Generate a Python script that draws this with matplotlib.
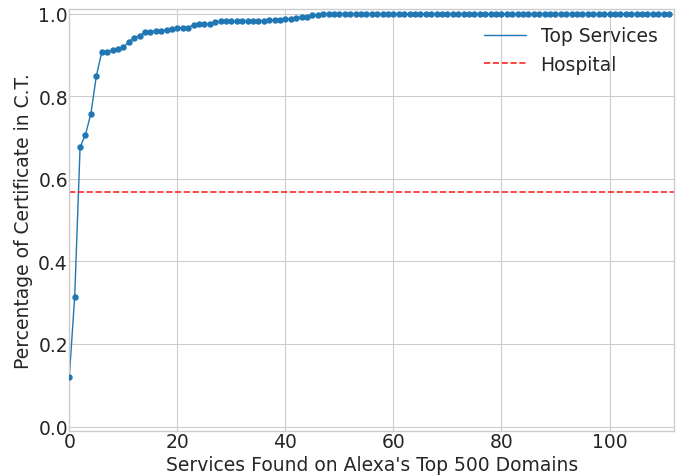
import matplotlib
matplotlib.use("Agg")
import matplotlib.pyplot as plt
import numpy as np

# Fracción acumulada de certificados en C.T. por servicio
top_services = [
    0.120, 0.314, 0.677, 0.707, 0.758, 0.848, 0.907, 0.907, 0.912, 0.914,
    0.918, 0.931, 0.942, 0.947, 0.955, 0.956, 0.958, 0.959, 0.961, 0.963,
    0.965, 0.966, 0.966, 0.973, 0.974, 0.975, 0.975, 0.979, 0.981, 0.981,
    0.981, 0.981, 0.982, 0.982, 0.983, 0.983, 0.983, 0.984, 0.984, 0.985,
    0.986, 0.986, 0.989, 0.992, 0.993, 0.996, 0.997,
] + [1.0] * 65
hospital = 0.567

x = np.arange(len(top_services))

plt.style.use("seaborn-v0_8-whitegrid")
plt.rcParams["font.family"] = ["DejaVu Sans"]

fig = plt.figure(figsize=(6.86, 4.77), dpi=100)
ax = fig.add_axes([0.101, 0.095, 0.882, 0.883])

ax.plot(x, top_services, color="#1f77b4", lw=1.0, label="Top Services")
ax.scatter(x, top_services, color="#1f77b4", s=13, zorder=3)
ax.axhline(hospital, color="red", ls="--", lw=1.2, alpha=0.85, label="Hospital")

ax.set_xlim(0, len(top_services))
ax.set_ylim(-0.01, 1.01)
ax.set_xticks([0, 20, 40, 60, 80, 100])
ax.set_yticks([0.0, 0.2, 0.4, 0.6, 0.8, 1.0])
ax.set_yticklabels(["0.0", "0.2", "0.4", "0.6", "0.8", "1.0"])
ax.tick_params(labelsize=13.5, pad=1, labelcolor="0.15")

ax.set_xlabel("Services Found on Alexa's Top 500 Domains", fontsize=13.5,
              labelpad=3, color="0.15")
ax.set_ylabel("Percentage of Certificate in C.T.", fontsize=13.5,
              labelpad=4, color="0.15")

ax.legend(loc="upper right", fontsize=13.5, frameon=False, handlelength=2.2)

fig.savefig("out.png", dpi=100)
